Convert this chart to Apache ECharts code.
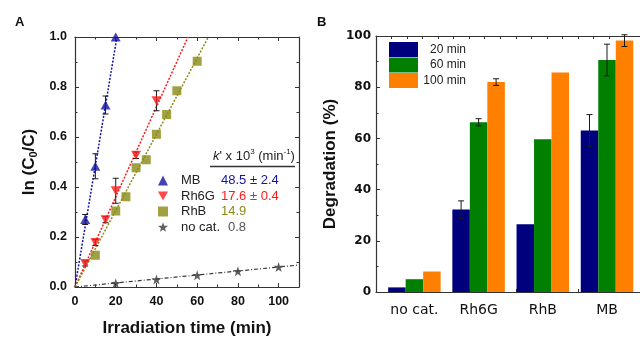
<!DOCTYPE html>
<html lang="en">
<head>
<meta charset="UTF-8">
<script src="https://cdn.jsdelivr.net/npm/echarts@6/dist/echarts.min.js"></script>
<title>degradation</title>
<style>
html, body { margin: 0; padding: 0; background: #fff; }
#chart { width: 640px; height: 342px; }
</style>
</head>
<body>
<div id="chart"></div>
<script>
// panel A: ln(C0/C) vs time
var mbT = [5, 10, 15, 20];
var mbY = [0.27, 0.483, 0.728, 1.0];
var mbErr = [0.02, 0.05, 0.036, 0];
var r6T = [5, 10, 15, 20, 30, 40];
var r6Y = [0.094, 0.178, 0.269, 0.385, 0.527, 0.745];
var r6Err = [0.01, 0.012, 0.012, 0.05, 0.013, 0.04];
var rbT = [10, 20, 25, 30, 35, 40, 45, 50, 60];
var rbY = [0.127, 0.304, 0.361, 0.477, 0.509, 0.611, 0.69, 0.785, 0.903];
var ncT = [20, 40, 60, 80, 100];
var ncY = [0.015, 0.03, 0.047, 0.063, 0.08];
// fitted lines (start, end)
var mbFit = [[0, 0], [20.6, 1.0]];
var r6Fit = [[0, 0], [55.5, 1.0]];
var rbFit = [[0, 0], [65.5, 1.0]];
var ncFit = [[0, 0], [110, 0.088]];
var kNames = ['MB', 'Rh6G', 'RhB', 'no cat.'];
var kValues = ['48.5 ± 2.4', '17.6 ± 0.4', '14.9', '0.8'];

// panel B: degradation %
var cats = ['no cat.', 'Rh6G', 'RhB', 'MB'];
var times = ['20 min', '60 min', '100 min'];
var deg20 = [1.8, 32.2, 26.5, 63.1];
var deg60 = [5.0, 66.3, 59.7, 90.6];
var deg100 = [8.0, 82.0, 85.7, 98.2];
var err20 = [0, 3.4, 0, 6.2];
var err60 = [0, 1.4, 0, 6.2];
var err100 = [0, 1.3, 0, 2.3];

var cBlue = '#1414a0', cRed = '#ff1a1a', cOlive = '#8a8a14', cGray = '#3a3a3a';
var bColors = ['#00007f', '#007f00', '#ff8000'];
var axisCol = '#333';

function pairs(xs, ys) { return xs.map(function (x, i) { return [x, ys[i]]; }); }
function errs(xs, ys, es) {
  var out = [];
  xs.forEach(function (x, i) { if (es[i] > 0) out.push([x, ys[i] - es[i], ys[i] + es[i]]); });
  return out;
}

function errRender(offset) {
  return function (params, api) {
    var x = api.value(0), lo = api.value(1), hi = api.value(2);
    var p1 = api.coord([x, hi]), p2 = api.coord([x, lo]);
    var cx = p1[0] + offset, w = 3;
    var st = { stroke: '#1a1a1a', lineWidth: 1 };
    return { type: 'group', children: [
      { type: 'line', shape: { x1: cx, y1: p1[1], x2: cx, y2: p2[1] }, style: st },
      { type: 'line', shape: { x1: cx - w, y1: p1[1], x2: cx + w, y2: p1[1] }, style: st },
      { type: 'line', shape: { x1: cx - w, y1: p2[1], x2: cx + w, y2: p2[1] }, style: st }
    ] };
  };
}

var star = 'path://M5,0L6.2,3.5L10,3.6L7,5.9L8.1,9.5L5,7.4L1.9,9.5L3,5.9L0,3.6L3.8,3.5Z';
var downTri = 'path://M0,0L10,0L5,9Z';

function frameAxis(extra) {
  var base = {
    axisLine: { show: true, onZero: false, lineStyle: { color: axisCol, width: 1.2 } },
    axisTick: { show: true, inside: true, length: 4, lineStyle: { color: axisCol } },
    minorTick: { show: true, splitNumber: 2, length: 2.5, lineStyle: { color: axisCol } },
    splitLine: { show: false },
    axisLabel: { show: false }
  };
  for (var k in extra) base[k] = extra[k];
  return base;
}

var rowKeys = ['mb', 'r6', 'rb', 'nc'];
var plain = { fontFamily: 'Liberation Sans', fontWeight: 'normal', fontSize: 13, color: '#222', lineHeight: 16 };

var option = {
  animation: false,
  backgroundColor: '#fff',
  title: [
    { text: 'A', left: 10, top: 11, textStyle: { fontFamily: 'Liberation Sans', fontWeight: 'bold', fontSize: 13, color: '#111' } },
    { text: 'B', left: 312, top: 11, textStyle: { fontFamily: 'Liberation Sans', fontWeight: 'bold', fontSize: 13, color: '#111' } },
    { text: "{k|k}{n|' x 10}{s|3}{n| (min}{s|-1}{n|)}", left: 208, top: 143,
      textStyle: { fontWeight: 'normal', rich: {
        k: { fontFamily: 'Liberation Sans', fontWeight: 'normal', fontStyle: 'italic', fontSize: 13, color: '#222', lineHeight: 16 },
        n: plain,
        s: { fontFamily: 'Liberation Sans', fontWeight: 'normal', fontSize: 8, color: '#222', verticalAlign: 'top', lineHeight: 9 }
      } } }
  ],
  graphic: [
    { type: 'line', shape: { x1: 210, y1: 166.5, x2: 295, y2: 166.5 }, style: { stroke: '#333', lineWidth: 1.3 } }
  ],
  legend: [
    {
      data: kNames, orient: 'vertical', left: 158, top: 173, padding: 0,
      itemWidth: 10, itemHeight: 10, itemGap: 0.5,
      textStyle: { fontFamily: 'Liberation Sans', fontSize: 13, lineHeight: 15, color: '#222',
        rich: {
          n: { fontFamily: 'Liberation Sans', fontSize: 13, color: '#222', width: 40, padding: [0, 0, 0, 8] },
          mb: { fontFamily: 'Liberation Sans', fontSize: 13, color: cBlue },
          r6: { fontFamily: 'Liberation Sans', fontSize: 13, color: cRed },
          rb: { fontFamily: 'Liberation Sans', fontSize: 13, color: cOlive },
          nc: { fontFamily: 'Liberation Sans', fontSize: 13, color: '#555', padding: [0, 0, 0, 7] }
        } },
      formatter: function (name) {
        var i = kNames.indexOf(name);
        return '{n|' + name + '}{' + rowKeys[i] + '|' + kValues[i] + '}';
      }
    },
    {
      data: times, orient: 'vertical', left: 389, top: 42, padding: 0,
      itemWidth: 29, itemHeight: 15, itemGap: 0.5, icon: 'rect',
      textStyle: { fontFamily: 'Liberation Sans', fontSize: 12, color: '#222',
        rich: { r: { fontFamily: 'Liberation Sans', fontSize: 12, color: '#222', width: 43, align: 'right' } } },
      formatter: function (name) { return '{r|' + name + '}'; }
    }
  ],
  grid: [
    { left: 75, top: 37, width: 224, height: 254 },
    { left: 376, top: 36, width: 276, height: 256 },
    { left: 382.3, top: 36, width: 256.8, height: 256 }
  ],
  xAxis: [
    frameAxis({ gridIndex: 0, type: 'value', min: 0, max: 110, interval: 20, position: 'bottom',
      name: 'Irradiation time (min)', nameLocation: 'middle', nameGap: 33,
      nameTextStyle: { fontFamily: 'Liberation Sans', fontWeight: 'bold', fontSize: 17, color: '#111' },
      axisLabel: { show: true, margin: 8, showMaxLabel: false,
        formatter: function (v) { return v > 100 ? '' : String(v); },
        fontFamily: 'Liberation Sans', fontWeight: 'bold', fontSize: 12.5, color: '#111' } }),
    frameAxis({ gridIndex: 0, type: 'value', min: 0, max: 110, interval: 20, position: 'top' }),
    frameAxis({ gridIndex: 1, type: 'value', min: 0, max: 17, interval: 1, position: 'bottom',
      minorTick: { show: false }, axisTick: { show: true, inside: true, length: 3, lineStyle: { color: axisCol } } }),
    frameAxis({ gridIndex: 1, type: 'value', min: 0, max: 17, interval: 1, position: 'top',
      minorTick: { show: false }, axisTick: { show: true, inside: true, length: 3, lineStyle: { color: axisCol } } }),
    { gridIndex: 2, type: 'category', data: cats, boundaryGap: true,
      axisLine: { show: false }, axisTick: { show: false }, splitLine: { show: false },
      axisLabel: { margin: 11, fontFamily: 'DejaVu Sans', fontSize: 14, color: '#111' } }
  ],
  yAxis: [
    frameAxis({ gridIndex: 0, type: 'value', min: 0, max: 1.0, interval: 0.2, position: 'left',
      name: '{a|ln (C}{b|0}{a|/C)}', nameLocation: 'middle', nameGap: 36, nameRotate: 90,
      nameTextStyle: { rich: {
        a: { fontFamily: 'Liberation Sans', fontWeight: 'bold', fontSize: 17, color: '#111', lineHeight: 20 },
        b: { fontFamily: 'Liberation Sans', fontWeight: 'bold', fontSize: 11, color: '#111', verticalAlign: 'bottom', lineHeight: 11 }
      } },
      axisLabel: { show: true, margin: 8, formatter: function (v) { return v.toFixed(1); },
        fontFamily: 'Liberation Sans', fontWeight: 'bold', fontSize: 12.5, color: '#111' } }),
    frameAxis({ gridIndex: 0, type: 'value', min: 0, max: 1.0, interval: 0.2, position: 'right' }),
    frameAxis({ gridIndex: 1, type: 'value', min: 0, max: 100, interval: 20, position: 'left',
      name: 'Degradation (%)', nameLocation: 'middle', nameGap: 37, nameRotate: 90,
      nameTextStyle: { fontFamily: 'Liberation Sans', fontWeight: 'bold', fontSize: 17, color: '#111' },
      axisLabel: { show: true, margin: 5, fontFamily: 'DejaVu Sans', fontWeight: 'bold', fontSize: 12, color: '#111' } }),
    { gridIndex: 2, type: 'value', min: 0, max: 100, show: false }
  ],
  series: [
    // fits
    { type: 'line', xAxisIndex: 0, yAxisIndex: 0, data: mbFit, showSymbol: false, symbol: 'none',
      lineStyle: { color: cBlue, width: 1.5, type: [2, 1.5] }, z: 2, silent: true },
    { type: 'line', xAxisIndex: 0, yAxisIndex: 0, data: r6Fit, showSymbol: false, symbol: 'none',
      lineStyle: { color: cRed, width: 1.5, type: [2, 1.5] }, z: 2, silent: true },
    { type: 'line', xAxisIndex: 0, yAxisIndex: 0, data: rbFit, showSymbol: false, symbol: 'none',
      lineStyle: { color: cOlive, width: 1.5, type: [2, 1.5] }, z: 2, silent: true },
    { type: 'line', xAxisIndex: 0, yAxisIndex: 0, data: ncFit, showSymbol: false, symbol: 'none',
      lineStyle: { color: cGray, width: 1.2, type: [4, 2, 1, 2] }, z: 2, silent: true },
    // error bars A
    { type: 'custom', xAxisIndex: 0, yAxisIndex: 0, renderItem: errRender(0), data: errs(mbT, mbY, mbErr),
      encode: { x: 0, y: [1, 2] }, z: 3 },
    { type: 'custom', xAxisIndex: 0, yAxisIndex: 0, renderItem: errRender(0), data: errs(r6T, r6Y, r6Err),
      encode: { x: 0, y: [1, 2] }, z: 3 },
    // points A
    { name: 'MB', type: 'scatter', xAxisIndex: 0, yAxisIndex: 0, data: pairs(mbT, mbY),
      symbol: 'triangle', symbolSize: [10, 9], itemStyle: { color: cBlue }, z: 4 },
    { name: 'Rh6G', type: 'scatter', xAxisIndex: 0, yAxisIndex: 0, data: pairs(r6T, r6Y),
      symbol: downTri, symbolSize: [10, 9], itemStyle: { color: cRed }, z: 4 },
    { name: 'RhB', type: 'scatter', xAxisIndex: 0, yAxisIndex: 0, data: pairs(rbT, rbY),
      symbol: 'rect', symbolSize: 9, itemStyle: { color: cOlive }, z: 4 },
    { name: 'no cat.', type: 'scatter', xAxisIndex: 0, yAxisIndex: 0, data: pairs(ncT, ncY),
      symbol: star, symbolSize: 10, itemStyle: { color: cGray }, z: 4 },
    // bars B
    { name: times[0], type: 'bar', xAxisIndex: 4, yAxisIndex: 3, data: deg20, barWidth: 17.5, barGap: '0%',
      itemStyle: { color: bColors[0] } },
    { name: times[1], type: 'bar', xAxisIndex: 4, yAxisIndex: 3, data: deg60, barWidth: 17.5, barGap: '0%',
      itemStyle: { color: bColors[1] } },
    { name: times[2], type: 'bar', xAxisIndex: 4, yAxisIndex: 3, data: deg100, barWidth: 17.5, barGap: '0%',
      itemStyle: { color: bColors[2] } },
    { type: 'custom', xAxisIndex: 4, yAxisIndex: 3, renderItem: errRender(-17.5), data: errs([0, 1, 2, 3], deg20, err20),
      encode: { x: 0, y: [1, 2] }, z: 5, clip: false },
    { type: 'custom', xAxisIndex: 4, yAxisIndex: 3, renderItem: errRender(0), data: errs([0, 1, 2, 3], deg60, err60),
      encode: { x: 0, y: [1, 2] }, z: 5, clip: false },
    { type: 'custom', xAxisIndex: 4, yAxisIndex: 3, renderItem: errRender(17.5), data: errs([0, 1, 2, 3], deg100, err100),
      encode: { x: 0, y: [1, 2] }, z: 5, clip: false }
  ]
};

var chart = echarts.init(document.getElementById('chart'), null, { renderer: 'canvas' });
chart.setOption(option);
</script>
</body>
</html>
